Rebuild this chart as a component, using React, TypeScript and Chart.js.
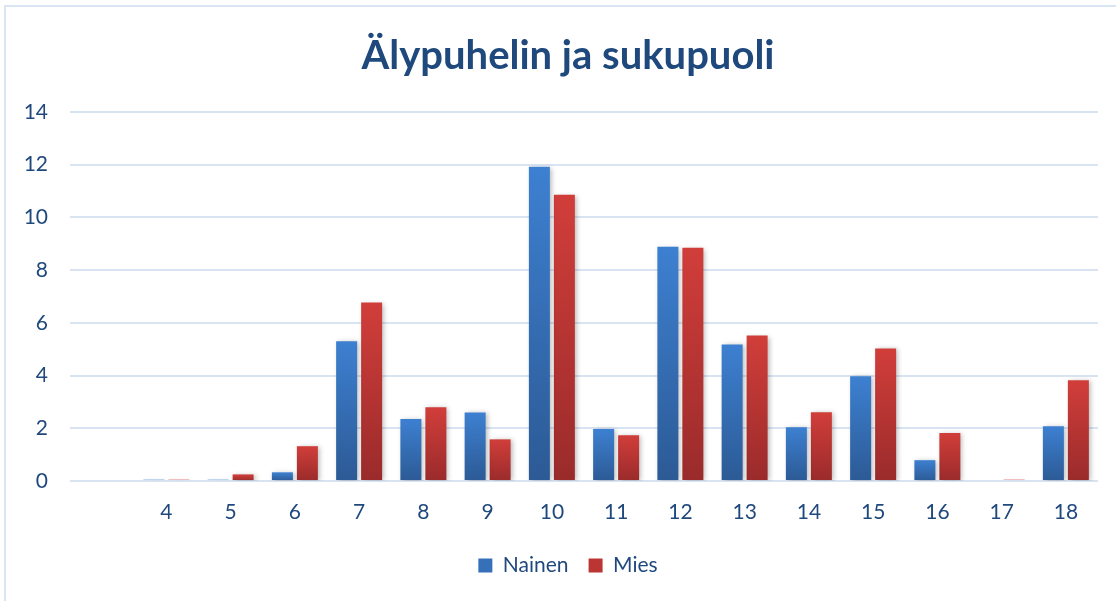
import React, { useEffect, useRef } from "react";
import { Chart, registerables } from "chart.js";

Chart.register(...registerables);

const categories = ["", "4", "5", "6", "7", "8", "9", "10", "11", "12", "13", "14", "15", "16", "17", "18"];
const nainen = [null, 0.05, 0.05, 0.33, 5.3, 2.35, 2.6, 11.92, 1.97, 8.89, 5.18, 2.04, 3.97, 0.79, 0, 2.08];
const mies = [null, 0.05, 0.25, 1.32, 6.77, 2.8, 1.58, 10.86, 1.74, 8.85, 5.52, 2.61, 5.03, 1.82, 0.05, 3.82];
const seriesNames = ["Nainen", "Mies"];
const yTicks = [0, 2, 4, 6, 8, 10, 12, 14];

const TEXT = "#1f497d";
const GRID = "#d9e4f2";
const FONT = "Lato, 'Open Sans', sans-serif";

function gradient(top: string, bottom: string) {
  return (ctx: any) => {
    const chart = ctx.chart;
    const area = chart.chartArea;
    if (!area || ctx.type !== "data") return top;
    const v = ctx.raw;
    if (v == null) return top;
    const ys = chart.scales.y;
    const y0 = ys.getPixelForValue(0);
    const y1 = ys.getPixelForValue(v);
    if (Math.abs(y0 - y1) < 2) return top;
    const g = chart.ctx.createLinearGradient(0, y1, 0, y0);
    g.addColorStop(0, top);
    g.addColorStop(1, bottom);
    return g;
  };
}

const shadowPlugin = {
  id: "barShadow",
  beforeDatasetsDraw(chart: any) {
    const c = chart.ctx;
    c.save();
    c.shadowColor = "rgba(0,0,0,0.28)";
    c.shadowBlur = 5;
    c.shadowOffsetX = 2;
    c.shadowOffsetY = 1;
  },
  afterDatasetsDraw(chart: any) {
    chart.ctx.restore();
  },
};

export default function App() {
  const ref = useRef<HTMLCanvasElement | null>(null);
  useEffect(() => {
    const canvas = ref.current;
    if (!canvas) return;
    const chart = new Chart(canvas, {
      type: "bar",
      data: {
        labels: categories,
        datasets: [
          {
            label: seriesNames[0],
            data: nainen,
            backgroundColor: gradient("#3d80d1", "#2c5a95"),
            legendColor: "#3570b8",
            categoryPercentage: 0.778,
            barPercentage: 0.84,
          } as any,
          {
            label: seriesNames[1],
            data: mies,
            backgroundColor: gradient("#d13e3a", "#9a2b2b"),
            legendColor: "#bb3533",
            categoryPercentage: 0.778,
            barPercentage: 0.84,
          } as any,
        ],
      },
      options: {
        responsive: false,
        animation: false,
        layout: { padding: { left: 20, right: 0, top: 0, bottom: 15 } },
        plugins: {
          title: {
            display: true,
            text: "Älypuhelin ja sukupuoli",
            color: TEXT,
            font: { family: FONT, size: 40, weight: "bold" },
            padding: { top: 32, bottom: 32 },
          },
          legend: {
            position: "bottom",
            labels: {
              color: TEXT,
              font: { family: FONT, size: 21 },
              boxWidth: 14,
              boxHeight: 14,
              padding: 20,
              generateLabels: (chart: any) =>
                chart.data.datasets.map((ds: any, i: number) => ({
                  text: ds.label,
                  fillStyle: ds.legendColor,
                  strokeStyle: ds.legendColor,
                  lineWidth: 0,
                  hidden: false,
                  datasetIndex: i,
                  fontColor: TEXT,
                })),
            },
          },
          tooltip: { enabled: false },
        },
        scales: {
          x: {
            grid: { display: false },
            border: { display: false },
            ticks: {
              color: TEXT,
              font: { family: FONT, size: 21 },
              padding: 11,
              maxRotation: 0,
              autoSkip: false,
            },
            afterFit: (s: any) => {
              s.height = 54;
            },
          },
          y: {
            min: 0,
            max: 14,
            afterBuildTicks: (s: any) => {
              s.ticks = yTicks.map((v) => ({ value: v }));
            },
            grid: { color: GRID, lineWidth: 2, drawTicks: false },
            border: { display: false },
            ticks: {
              color: TEXT,
              font: { family: FONT, size: 21 },
              padding: 22,
            },
            afterFit: (s: any) => {
              s.width = 50;
            },
          },
          y2: {
            position: "right",
            display: true,
            grid: { display: false, drawTicks: false },
            border: { display: false },
            ticks: { display: false },
            afterFit: (s: any) => {
              s.width = 18;
            },
          },
        },
      },
      plugins: [shadowPlugin],
    });
    return () => chart.destroy();
  }, []);
  return (
    <div style={{ position: "absolute", left: 0, top: 0, width: 1116, height: 601, overflow: "hidden", background: "#fff" }}>
      <div
        style={{
          position: "absolute",
          left: 4,
          top: 5,
          width: 1130,
          height: 620,
          border: "2px solid #dae5f3",
          boxSizing: "border-box",
        }}
      />
      <canvas ref={ref} width={1116} height={601} style={{ position: "absolute", left: 0, top: 0, display: "block" }} />
    </div>
  );
}
